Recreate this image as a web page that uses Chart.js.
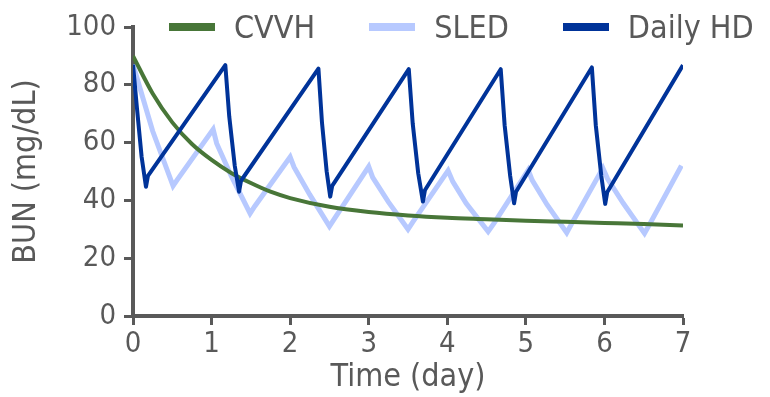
<!DOCTYPE html>
<html>
<head>
<meta charset="utf-8">
<script src="https://cdn.jsdelivr.net/npm/chart.js@4.4.0/dist/chart.umd.min.js"></script>
<style>
  html, body { margin: 0; padding: 0; background: #fff; }
  #wrap { position: relative; width: 770px; height: 397px; }
  #legend { position: absolute; left: 169px; top: 6px; display: flex; align-items: center; height: 42px;
    font-family: 'DejaVu Sans Condensed', 'Liberation Sans Narrow', sans-serif; font-size: 32px; color: #595959; }
  .item { display: flex; align-items: center; margin-right: 54px; white-space: nowrap; }
  .box { width: 46px; height: 8px; margin-right: 19px; }
</style>
</head>
<body>
<div id="wrap">
  <canvas id="myChart" width="770" height="397"></canvas>
  <div id="legend"></div>
</div>
<script>
var FONT = "'DejaVu Sans Condensed', 'Liberation Sans Narrow', sans-serif";
var GRAY = '#595959';

// series names and colours
var seriesNames = ['CVVH', 'SLED', 'Daily HD'];
var seriesColors = ['#487638', '#b7c9ff', '#003399'];

// CVVH (continuous, smooth decay)
var cvvhX = [0, 0.25, 0.5, 0.75, 1, 1.25, 1.5, 1.75, 2, 2.5, 3, 3.5, 4, 4.5, 5, 5.5, 6, 6.5, 7];
var cvvhY = [90, 77, 67, 59.5, 54, 49.5, 46, 43, 40.8, 37.8, 36, 34.8, 34, 33.5, 33, 32.6, 32.2, 31.8, 31.3];

// SLED (daily sessions)
var sledX = [0, 0.25, 0.51, 0.56, 1.02, 1.065, 1.255, 1.49, 1.55, 2.0, 2.05, 2.25, 2.5, 2.56, 3.0, 3.05, 3.25, 3.5, 3.56,
  4.01, 4.07, 4.24, 4.52, 4.6, 5.03, 5.08, 5.27, 5.52, 5.58, 5.98, 6.04, 6.24, 6.51, 6.57, 6.98];
var sledY = [87, 64, 45, 47, 64.6, 59.7, 48.2, 35.5, 38, 55, 51.5, 42, 31, 33.5, 51.7, 48, 39.5, 30, 32.5,
  50.3, 46.5, 39, 29.2, 32.3, 50.5, 47, 38.5, 28.8, 31.8, 51.2, 47.5, 39, 28.6, 31.5, 52];

// Daily HD (short sessions, six per week)
var hdX = [0, 0.05, 0.11, 0.165, 0.19,
  1.175, 1.225, 1.295, 1.35, 1.375,
  2.36, 2.405, 2.465, 2.51, 2.535,
  3.51, 3.56, 3.63, 3.69, 3.715,
  4.68, 4.73, 4.80, 4.85, 4.875,
  5.84, 5.89, 5.96, 6.01, 6.035,
  7.0];
var hdY = [87, 72, 55, 44.7, 48.5,
  86.8, 69, 52, 43, 46.8,
  85.6, 67, 50, 41.3, 45,
  85.4, 66.6, 49.4, 39.6, 43.5,
  85.4, 66, 48.5, 39, 43,
  86, 66, 48.5, 38.8, 42.8,
  86.8];

var xTicks = [0, 1, 2, 3, 4, 5, 6, 7];
var yTicks = [0, 20, 40, 60, 80, 100];

function pts(xs, ys) {
  return xs.map(function (x, i) { return { x: x, y: ys[i] }; });
}

// html legend
var legend = document.getElementById('legend');
seriesNames.forEach(function (name, i) {
  var item = document.createElement('div');
  item.className = 'item';
  var box = document.createElement('div');
  box.className = 'box';
  box.style.background = seriesColors[i];
  var label = document.createElement('span');
  label.textContent = name;
  item.appendChild(box);
  item.appendChild(label);
  legend.appendChild(item);
});

var ctx = document.getElementById('myChart').getContext('2d');
var chart = new Chart(ctx, {
  type: 'line',
  data: {
    datasets: [
      { label: seriesNames[0], data: pts(cvvhX, cvvhY), borderColor: seriesColors[0], borderWidth: 4,
        pointRadius: 0, cubicInterpolationMode: 'monotone', order: 1 },
      { label: seriesNames[1], data: pts(sledX, sledY), borderColor: seriesColors[1], borderWidth: 5,
        pointRadius: 0, tension: 0, order: 2 },
      { label: seriesNames[2], data: pts(hdX, hdY), borderColor: seriesColors[2], borderWidth: 4,
        pointRadius: 0, tension: 0, borderJoinStyle: 'round', order: 0 }
    ]
  },
  options: {
    responsive: false,
    animation: false,
    layout: { padding: { top: 27, right: 87, left: 0, bottom: 0 } },
    plugins: { legend: { display: false }, tooltip: { enabled: false } },
    scales: {
      x: {
        type: 'linear', min: 0, max: 7,
        afterBuildTicks: function (s) { s.ticks = xTicks.map(function (v) { return { value: v }; }); },
        afterFit: function (s) { s.height = 81; },
        border: { display: true, color: GRAY, width: 4 },
        grid: { drawOnChartArea: false, drawTicks: true, tickLength: 9, tickColor: GRAY, tickWidth: 3 },
        ticks: { color: GRAY, font: { family: FONT, size: 29 }, padding: 2, maxRotation: 0 },
        title: { display: true, text: 'Time (day)', color: GRAY, font: { family: FONT, size: 32 }, padding: 0 }
      },
      y: {
        min: 0, max: 100,
        afterBuildTicks: function (s) { s.ticks = yTicks.map(function (v) { return { value: v }; }); },
        afterFit: function (s) { s.width = 133; },
        border: { display: true, color: GRAY, width: 4 },
        grid: { drawOnChartArea: false, drawTicks: true, tickLength: 9, tickColor: GRAY, tickWidth: 3 },
        ticks: { color: GRAY, font: { family: FONT, size: 29 }, padding: 8 },
        title: { display: true, text: 'BUN (mg/dL)', color: GRAY, font: { family: FONT, size: 32 },
          padding: { top: 7, bottom: 0 } }
      }
    }
  }
});
</script>
</body>
</html>
